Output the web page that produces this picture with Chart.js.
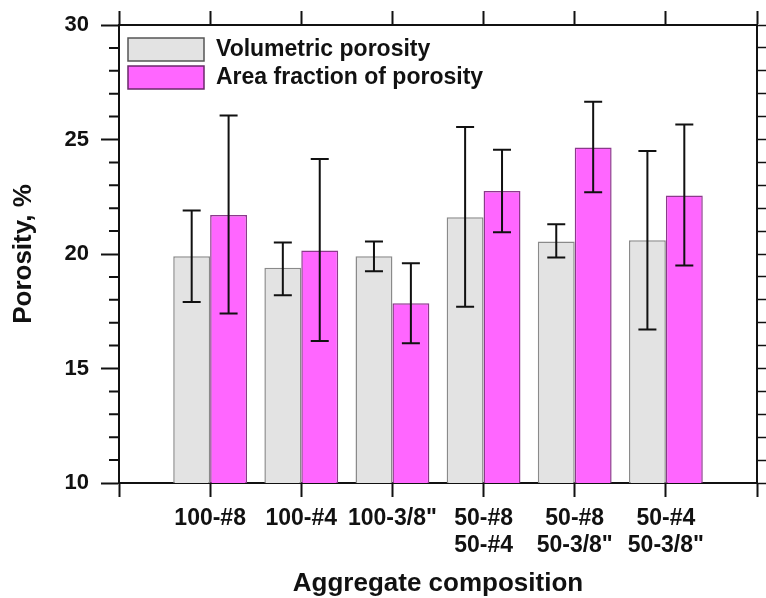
<!DOCTYPE html>
<html>
<head>
<meta charset="utf-8">
<script src="https://cdn.jsdelivr.net/npm/chart.js@4"></script>
<style>
  html, body { margin: 0; padding: 0; background: #fff; }
  #wrap { width: 766px; height: 598px; position: relative; }
</style>
</head>
<body>
<div id="wrap"><canvas id="chart1"></canvas></div>
<script>
// categories on the x axis (positions 1..6 of a 0..7 axis)
const categories = [['100-#8'], ['100-#4'], ['100-3/8"'], ['50-#8', '50-#4'], ['50-#8', '50-3/8"'], ['50-#4', '50-3/8"']];

// porosity, %
const volumetric = [19.9, 19.4, 19.9, 21.6, 20.55, 20.6];
const volLow = [17.9, 18.2, 19.25, 17.7, 19.85, 16.7];
const volHigh = [21.9, 20.5, 20.55, 25.55, 21.3, 24.5];

const areaFraction = [21.7, 20.15, 17.85, 22.75, 24.65, 22.55];
const areaLow = [17.4, 16.2, 16.1, 20.95, 22.7, 19.5];
const areaHigh = [26.05, 24.15, 19.6, 24.55, 26.65, 25.65];

const FONT = '"Liberation Sans", Arial, Helvetica, sans-serif';

function points(vals) {
    return vals.map(function(v, i) { return { x: i + 1, y: v }; });
}

// error bars, drawn through the y scale
const errorBars = {
    id: 'errorBars',
    afterDatasetsDraw: function(chart) {
        const ctx = chart.ctx;
        const y = chart.scales.y;
        ctx.save();
        ctx.strokeStyle = '#111';
        ctx.lineWidth = 2;
        chart.data.datasets.forEach(function(ds, di) {
            const meta = chart.getDatasetMeta(di);
            meta.data.forEach(function(bar, i) {
                const top = y.getPixelForValue(ds.errHigh[i]);
                const bot = y.getPixelForValue(ds.errLow[i]);
                const cap = 9;
                ctx.beginPath();
                ctx.moveTo(bar.x, top); ctx.lineTo(bar.x, bot);
                ctx.moveTo(bar.x - cap, top); ctx.lineTo(bar.x + cap, top);
                ctx.moveTo(bar.x - cap, bot); ctx.lineTo(bar.x + cap, bot);
                ctx.stroke();
            });
        });
        ctx.restore();
    }
};

// short minor ticks every 1 % on the left axis
const minorTicks = {
    id: 'minorTicks',
    afterDraw: function(chart) {
        const ctx = chart.ctx;
        const y = chart.scales.y;
        const left = chart.chartArea.left;
        ctx.save();
        ctx.strokeStyle = '#111';
        ctx.lineWidth = 2;
        ctx.beginPath();
        for (let v = 10; v <= 30; v++) {
            if (v % 5 === 0) continue;
            const py = y.getPixelForValue(v);
            ctx.moveTo(left - 10, py);
            ctx.lineTo(left, py);
        }
        ctx.stroke();
        ctx.restore();
    }
};

// legend inside the plot, top left
const innerLegend = {
    id: 'innerLegend',
    afterDraw: function(chart) {
        const ctx = chart.ctx;
        const area = chart.chartArea;
        ctx.save();
        ctx.font = 'bold 23px ' + FONT;
        ctx.textBaseline = 'middle';
        chart.data.datasets.forEach(function(ds, i) {
            const bx = area.left + 9;
            const by = area.top + 13 + i * 28;
            ctx.fillStyle = ds.backgroundColor;
            ctx.fillRect(bx, by, 76, 23);
            ctx.lineWidth = 1.5;
            ctx.strokeStyle = ds.legendBorder;
            ctx.strokeRect(bx, by, 76, 23);
            ctx.fillStyle = '#111';
            ctx.fillText(ds.label, bx + 88, by + 12);
        });
        ctx.restore();
    }
};

new Chart('chart1', {
    type: 'bar',
    data: {
        datasets: [{
            label: 'Volumetric porosity',
            data: points(volumetric),
            errLow: volLow,
            errHigh: volHigh,
            backgroundColor: '#e3e3e3',
            borderColor: '#8a8a8a',
            legendBorder: '#555',
            borderWidth: 1.5,
            categoryPercentage: 0.81,
            barPercentage: 1.0
        }, {
            label: 'Area fraction of porosity',
            data: points(areaFraction),
            errLow: areaLow,
            errHigh: areaHigh,
            backgroundColor: '#ff66ff',
            borderColor: '#8b3a8b',
            legendBorder: '#6a2a6a',
            borderWidth: 1.5,
            categoryPercentage: 0.81,
            barPercentage: 1.0
        }]
    },
    options: {
        responsive: true,
        maintainAspectRatio: false,
        animation: false,
        layout: { padding: 0 },
        plugins: {
            legend: { display: false },
            tooltip: { enabled: false }
        },
        scales: {
            x: {
                type: 'linear',
                position: 'bottom',
                min: 0,
                max: 7,
                offset: false,
                afterFit: function(s) { s.height = 115; },
                grid: { offset: false, drawOnChartArea: false, tickLength: 14, tickColor: '#111', tickWidth: 2 },
                border: { display: true, color: '#111', width: 2 },
                ticks: {
                    stepSize: 1,
                    autoSkip: false,
                    maxRotation: 0,
                    padding: 8,
                    color: '#111',
                    font: { family: FONT, size: 23, weight: 'bold', lineHeight: 1.17 },
                    callback: function(v) { return categories[v - 1] || ''; }
                },
                title: {
                    display: true,
                    text: 'Aggregate composition',
                    color: '#111',
                    padding: { top: 0, bottom: 0 },
                    font: { family: FONT, size: 26, weight: 'bold', lineHeight: 1.1 }
                }
            },
            x2: {
                type: 'linear',
                position: 'top',
                min: 0,
                max: 7,
                offset: false,
                afterFit: function(s) { s.height = 25; },
                grid: { offset: false, drawOnChartArea: false, tickLength: 14, tickColor: '#111', tickWidth: 2 },
                border: { display: true, color: '#111', width: 2 },
                ticks: { stepSize: 1, display: false, autoSkip: false }
            },
            y: {
                type: 'linear',
                position: 'left',
                min: 10,
                max: 30,
                afterFit: function(s) { s.width = 119; s.paddingTop = 0; s.paddingBottom = 0; },
                grid: { drawOnChartArea: false, tickLength: 18, tickColor: '#111', tickWidth: 2 },
                border: { display: true, color: '#111', width: 2 },
                ticks: {
                    stepSize: 5,
                    autoSkip: false,
                    padding: 12,
                    color: '#111',
                    font: { family: FONT, size: 22, weight: 'bold' }
                },
                title: {
                    display: true,
                    text: 'Porosity, %',
                    color: '#111',
                    padding: { top: 8, bottom: 0 },
                    font: { family: FONT, size: 26, weight: 'bold', lineHeight: 1.2 }
                }
            },
            y2: {
                type: 'linear',
                position: 'right',
                min: 10,
                max: 30,
                afterFit: function(s) { s.width = 9; s.paddingTop = 0; s.paddingBottom = 0; },
                grid: { drawOnChartArea: false, tickLength: 10, tickColor: '#111', tickWidth: 1.5 },
                border: { display: true, color: '#111', width: 2 },
                ticks: { stepSize: 1, display: false, autoSkip: false }
            }
        }
    },
    plugins: [errorBars, minorTicks, innerLegend]
});
</script>
</body>
</html>
